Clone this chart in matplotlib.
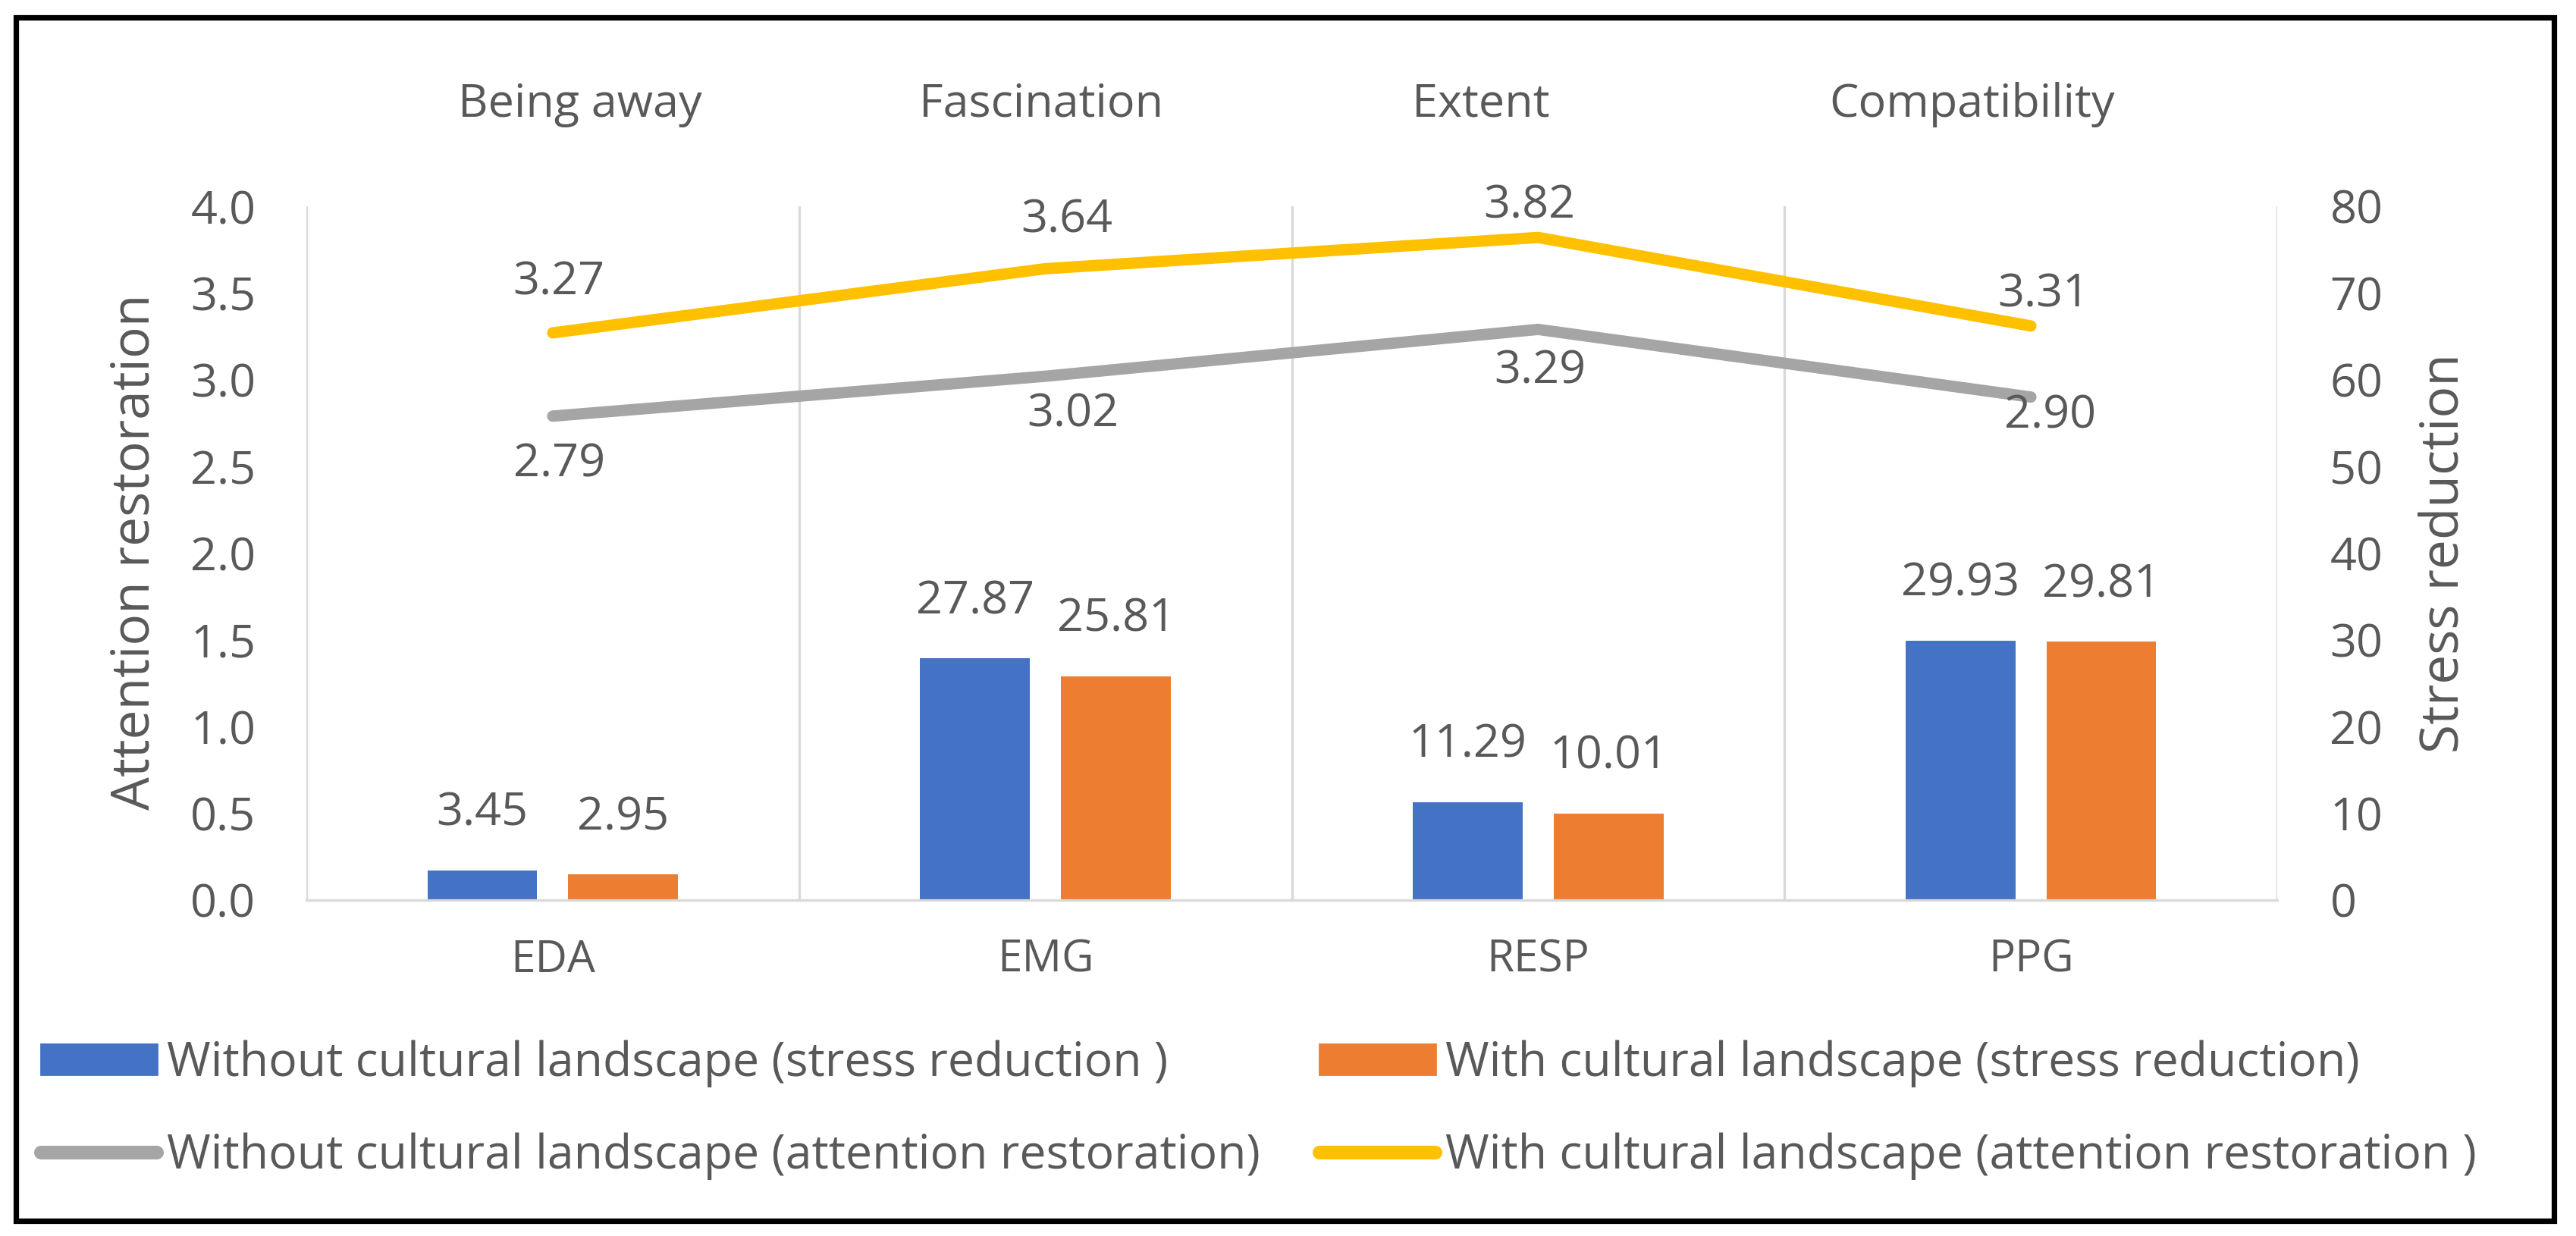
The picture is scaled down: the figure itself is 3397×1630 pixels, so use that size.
import matplotlib
matplotlib.use('Agg')
import matplotlib.pyplot as plt
import numpy as np
from matplotlib.patches import Rectangle, Patch
from matplotlib.lines import Line2D

plt.rcParams['font.family'] = ['Open Sans', 'DejaVu Sans']

# data
signals = ['EDA', 'EMG', 'RESP', 'PPG']
dimensions = ['Being away', 'Fascination', 'Extent', 'Compatibility']
stress_without = [3.45, 27.87, 11.29, 29.93]
stress_with = [2.95, 25.81, 10.01, 29.81]
attention_without = [2.79, 3.02, 3.29, 2.90]
attention_with = [3.27, 3.64, 3.82, 3.31]

labels = [
    'Without cultural landscape (stress reduction )',
    'With cultural landscape (stress reduction)',
    'Without cultural landscape (attention restoration)',
    'With cultural landscape (attention restoration )',
]

BLUE, ORANGE, GRAY, YELLOW = '#4472C4', '#ED7D31', '#A5A5A5', '#FFC000'
TXT = '#595959'
GRID = '#D9D9D9'

W, H = 3397, 1630
DPI = 200
fig = plt.figure(figsize=(W / DPI, H / DPI), dpi=DPI)
fig.patch.set_facecolor('white')

ax = fig.add_axes([404 / W, 1 - 1187 / H, (3003 - 404) / W, (1187 - 272) / H])
ax2 = ax.twinx()
ax.set_zorder(ax2.get_zorder() + 1)
ax.patch.set_visible(False)

x = np.arange(len(signals))
bw, off = 0.223, 0.143

# bars on the stress axis
ax2.bar(x - off, stress_without, width=bw, color=BLUE)
ax2.bar(x + off, stress_with, width=bw, color=ORANGE)
for xi, v in zip(x - off, stress_without):
    ax2.annotate(f'{v:.2f}', (xi, v), xytext=(0, 27), textcoords='offset points',
                 ha='center', va='center', fontsize=22, color=TXT)
for xi, v in zip(x + off, stress_with):
    ax2.annotate(f'{v:.2f}', (xi, v), xytext=(0, 27), textcoords='offset points',
                 ha='center', va='center', fontsize=22, color=TXT)

# lines on the attention axis
ax.plot(x, attention_without, color=GRAY, lw=5.4, solid_capstyle='round', solid_joinstyle='round')
ax.plot(x, attention_with, color=YELLOW, lw=5.4, solid_capstyle='round', solid_joinstyle='round')

# label offsets (points), placed by hand as in the original
with_off = [(3, 24), (10, 23), (-4, 15), (6, 15)]
without_off = [(3, -23), (13, -18), (1, -20), (9, -9)]
for xi, v, o in zip(x, attention_with, with_off):
    ax.annotate(f'{v:.2f}', (xi, v), xytext=o, textcoords='offset points',
                ha='center', va='center', fontsize=22, color=TXT)
for xi, v, o in zip(x, attention_without, without_off):
    ax.annotate(f'{v:.2f}', (xi, v), xytext=o, textcoords='offset points',
                ha='center', va='center', fontsize=22, color=TXT)

ax.set_xlim(-0.5, len(signals) - 0.5)
ax.set_ylim(0, 4)
ax2.set_ylim(0, 80)

for xv in np.arange(-0.5, len(signals), 1.0):
    ax.axvline(xv, color=GRID, lw=1.2, zorder=0)

for a in (ax, ax2):
    for s in a.spines.values():
        s.set_visible(False)
ax.spines['bottom'].set_visible(True)
ax.spines['bottom'].set_color(GRID)
ax.spines['bottom'].set_linewidth(1.2)

ax.set_yticks(np.arange(0, 4.01, 0.5))
ax.set_yticklabels([f'{t:.1f}' for t in np.arange(0, 4.01, 0.5)])
ax2.set_yticks(np.arange(0, 81, 10))
ax.tick_params(axis='y', length=0, pad=24, labelsize=22, labelcolor=TXT)
ax2.tick_params(axis='y', length=0, pad=25, labelsize=22, labelcolor=TXT)
ax.set_xticks(x)
ax.set_xticklabels(signals)
ax.tick_params(axis='x', length=0, pad=18, labelsize=21, labelcolor=TXT)

# axis titles
fig.text(179 / W, 1 - 728 / H, 'Attention restoration', rotation=90, ha='center', va='center',
         fontsize=25, color=TXT)
fig.text(3223 / W, 1 - 730 / H, 'Stress reduction', rotation=90, ha='center', va='center',
         fontsize=25, color=TXT)

# attention restoration dimensions along the top
top_x = [765, 1373, 1953, 2601]
for tx, d in zip(top_x, dimensions):
    fig.text(tx / W, 1 - 138 / H, d, ha='center', va='center', fontsize=22, color=TXT)

handles = [
    Patch(color=BLUE),
    Line2D([], [], color=GRAY, lw=6.5, solid_capstyle='round'),
    Patch(color=ORANGE),
    Line2D([], [], color=YELLOW, lw=6.5, solid_capstyle='round'),
]
leg_labels = [labels[0], labels[2], labels[1], labels[3]]
fig.legend(handles, leg_labels, ncol=2, loc='center left',
           bbox_to_anchor=(54 / W, 1 - 1464 / H), frameon=False,
           fontsize=22.5, labelcolor=TXT, handlelength=2.45, handleheight=0.6,
           handletextpad=0.21, columnspacing=1.25, labelspacing=0.95,
           borderpad=0, borderaxespad=0)

# outer frame
fig.add_artist(Rectangle((21 / W, 1 - 1610 / H), (3368 - 21) / W, (1610 - 23) / H,
                         transform=fig.transFigure, fill=False, ec='black', lw=2.6))

fig.savefig('out.png', dpi=DPI, facecolor='white')
